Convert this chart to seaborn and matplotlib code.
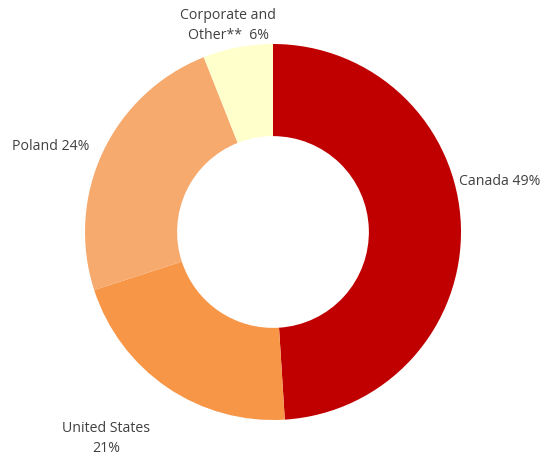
import numpy as np
import matplotlib
matplotlib.use("Agg")
import matplotlib.pyplot as plt
import seaborn as sns

# Segment data (clockwise from 12 o'clock)
segments = ["Canada", "United States", "Poland", "Corporate and\nOther**"]
shares = [49, 21, 24, 6]
label_text = ["Canada 49%", "United States\n21%", "Poland 24%", "Corporate and\nOther**  6%"]
colors = ["#C00000", "#F79646", "#F6AA6E", "#FFFFCC"]

sns.set_theme(style="white")
plt.rcParams["font.family"] = ["Open Sans", "DejaVu Sans"]

fig = plt.figure(figsize=(5.53, 4.58), dpi=100)
ax = fig.add_axes([0, 0, 1, 1])

wedges, _ = ax.pie(
    shares,
    colors=colors,
    startangle=90,
    counterclock=False,
    radius=1.0,
    wedgeprops=dict(width=0.49, linewidth=0),
)

# Label placement (x, y, horizontal alignment) in data units
label_pos = [
    (0.99, 0.266, "left"),
    (-0.888, -1.10, "center"),
    (-1.39, 0.457, "left"),
    (-0.239, 1.10, "center"),
]
for txt, (x, y, ha) in zip(label_text, label_pos):
    ax.text(x, y, txt, ha=ha, va="center", fontsize=10.2,
            color="#404040", linespacing=1.45)

ax.set_aspect("equal")
ax.set_xlim(-273 / 188, (553 - 273) / 188)
ax.set_ylim(-226 / 188, (458 - 226) / 188)
ax.axis("off")

fig.savefig("out.png", dpi=100, facecolor="white")
